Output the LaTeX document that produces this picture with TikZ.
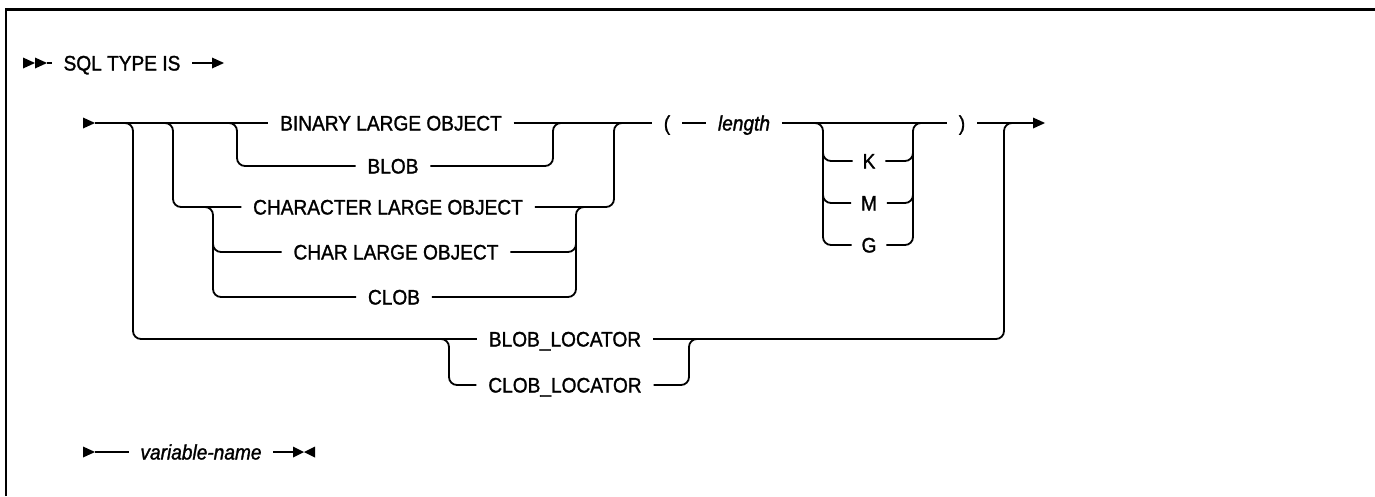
\documentclass[tikz,border=0pt]{standalone}
\usepackage{fontspec}
\setmainfont{Liberation Sans}[FakeStretch=0.91,FakeBold=1.3]
\begin{document}
\begin{tikzpicture}[x=1pt,y=-1pt,line width=1.8pt,
  rr/.style={rounded corners=8pt},
  lbl/.style={font=\fontsize{21}{25}\selectfont,text height=15pt,text depth=0pt,inner xsep=11pt,inner ysep=0pt},
  ilbl/.style={lbl,font=\fontsize{21}{25}\selectfont\itshape},
  tipfill/.style={fill=black,draw=none}]
\useasboundingbox (0,0) rectangle (1375,496);
% frame
\draw[line width=2.6pt] (6,496) -- (6,9.5) -- (1375,9.5);

% ---------- row 0 : SQL TYPE IS ----------
\coordinate (r0s) at (47,63);
\coordinate (r0e) at (212,63);
\node[lbl] (sql) at (122,63) {SQL TYPE IS};
\fill[tipfill] (23,57.5) -- (23,68.5) -- (35,63) -- cycle;
\fill[tipfill] (35,57.5) -- (35,68.5) -- (47,63) -- cycle;
\draw (r0s) -- (sql.west);
\draw (sql.east) -- (r0e);
\fill[tipfill] (212,57.5) -- (212,68.5) -- (224,63) -- cycle;

% ---------- labels ----------
\node[lbl] (bin)  at (391,123) {BINARY LARGE OBJECT};
\node[lbl] (blob) at (393,166) {BLOB};
\node[lbl] (chr)  at (388,207) {CHARACTER LARGE OBJECT};
\node[lbl] (chl)  at (396,252) {CHAR LARGE OBJECT};
\node[lbl] (clob) at (394,297) {CLOB};
\node[lbl] (bloc) at (565,339) {BLOB\_LOCATOR};
\node[lbl] (cloc) at (565,385) {CLOB\_LOCATOR};
\node[lbl] (lp)   at (667,123) {(};
\node[ilbl] (len) at (744,123) {length};
\node[lbl,inner xsep=9pt] (k) at (869,161) {K};
\node[lbl,inner xsep=9pt] (m) at (869,203) {M};
\node[lbl,inner xsep=9pt] (g) at (869,245) {G};
\node[lbl] (rp)   at (962,123) {)};

% ---------- main row ----------
\coordinate (ms) at (95,123);
\coordinate (me) at (1033,123);
\fill[tipfill] (83,117.5) -- (83,128.5) -- (95,123) -- cycle;
\draw (ms) -- (bin.west);
\draw (bin.east) -- (lp.west);
\draw (lp.east) -- (len.west);
\draw (len.east) -- (rp.west);
\draw (rp.east) -- (me);
\fill[tipfill] (1033,117.5) -- (1033,128.5) -- (1045,123) -- cycle;

% ---------- left drops ----------
\draw[rr] (125,123) -- (133,123) -- (133,339) -- (bloc.west);
\draw[rr] (165,123) -- (173,123) -- (173,207) -- (chr.west);
\draw[rr] (229,123) -- (237,123) -- (237,166) -- (blob.west);
\draw[rr] (205,207) -- (213,207) -- (213,297) -- (clob.west);
\draw[rr] (213,240) -- (213,252) -- (chl.west);
\draw[rr] (441,339) -- (449,339) -- (449,385) -- (cloc.west);

% ---------- right joins ----------
\draw[rr] (blob.east) -- (553,166) -- (553,123) -- (563,123);
\draw[rr] (chr.east) -- (614,207) -- (614,123) -- (624,123);
\draw[rr] (clob.east) -- (576,297) -- (576,207) -- (586,207);
\draw[rr] (chl.east) -- (576,252) -- (576,240);
\draw[rr] (cloc.east) -- (689,385) -- (689,339) -- (699,339);
\draw[rr] (bloc.east) -- (1004,339) -- (1004,123) -- (1014,123);

% ---------- K M G ----------
\draw[rr] (813,123) -- (823,123) -- (823,245) -- (g.west);
\draw[rr] (823,150) -- (823,161) -- (k.west);
\draw[rr] (823,192) -- (823,203) -- (m.west);
\draw[rr] (g.east) -- (913,245) -- (913,123) -- (923,123);
\draw[rr] (k.east) -- (913,161) -- (913,150);
\draw[rr] (m.east) -- (913,203) -- (913,192);

% ---------- bottom row ----------
\node[ilbl] (var) at (201,452) {variable-name};
\coordinate (bs) at (95,452);
\coordinate (be) at (293,452);
\fill[tipfill] (83,446.5) -- (83,457.5) -- (95,452) -- cycle;
\draw (bs) -- (var.west);
\draw (var.east) -- (be);
\fill[tipfill] (293,446.5) -- (293,457.5) -- (304,452) -- cycle;
\fill[tipfill] (315,446.5) -- (315,457.5) -- (304,452) -- cycle;
\end{tikzpicture}
\end{document}
